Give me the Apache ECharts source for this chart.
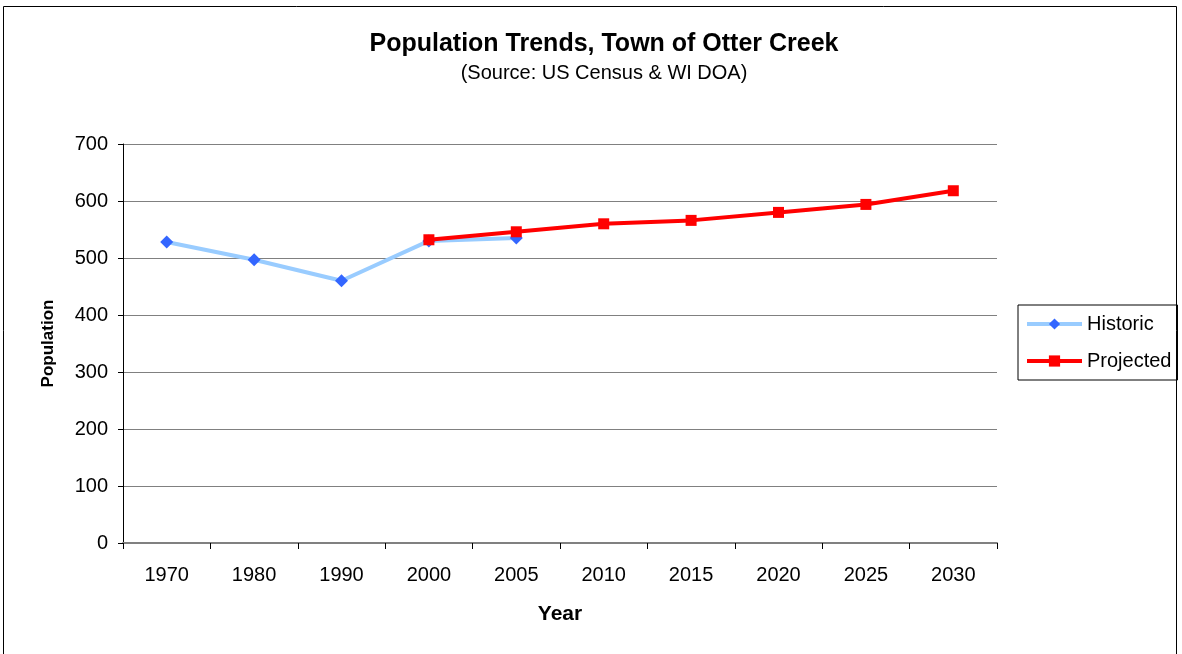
<!DOCTYPE html>
<html>
<head>
<meta charset="utf-8">
<script src="https://cdn.jsdelivr.net/npm/echarts@6/dist/echarts.min.js"></script>
<style>
html,body{margin:0;padding:0;background:#fff;}
#chart{width:1182px;height:654px;}
</style>
</head>
<body>
<div id="chart"></div>
<script>
// Census years and projection years on the category axis
const years = ['1970', '1980', '1990', '2000', '2005', '2010', '2015', '2020', '2025', '2030'];
// Historic counts (US Census); null beyond 2005
const historic = [528, 497, 460, 530, 535, null, null, null, null, null];
// Projected counts (WI DOA), starting in 2000
const projected = [null, null, null, 532, 546, 560, 566, 580, 594, 618];

const font = 'Liberation Sans, Arial, sans-serif';
const chart = echarts.init(document.getElementById('chart'));
chart.setOption({
  backgroundColor: '#fff',
  animation: false,
  graphic: [{
    type: 'rect',
    shape: { x: 3.5, y: 6.5, width: 1173, height: 660 },
    style: { fill: 'none', stroke: '#000', lineWidth: 1 },
    silent: true
  }],
  title: {
    text: 'Population Trends, Town of Otter Creek',
    subtext: '(Source: US Census & WI DOA)',
    left: 599, top: 27, textAlign: 'center',
    itemGap: 6,
    textStyle: { fontFamily: font, fontSize: 25, fontWeight: 'bold', color: '#000' },
    subtextStyle: { fontFamily: font, fontSize: 20, color: '#000' }
  },
  legend: {
    orient: 'vertical',
    left: 1018, top: 305,
    padding: [9, 6, 9, 7],
    itemGap: 17,
    itemWidth: 55, itemHeight: 14,
    borderColor: '#000', borderWidth: 1,
    lineStyle: { width: 4 },
    textStyle: { fontFamily: font, fontSize: 20, color: '#000' },
    data: ['Historic', 'Projected']
  },
  grid: { left: 123, right: 185, top: 144, bottom: 111, containLabel: false },
  xAxis: {
    type: 'category',
    data: years,
    boundaryGap: true,
    name: 'Year', nameLocation: 'middle', nameGap: 61,
    nameTextStyle: { fontFamily: font, fontSize: 21, fontWeight: 'bold', color: '#000' },
    axisLine: { lineStyle: { color: '#808080', width: 2 } },
    axisTick: { show: true, length: 6, lineStyle: { color: '#000' } },
    axisLabel: { fontFamily: font, fontSize: 20, color: '#000', margin: 22 }
  },
  yAxis: {
    type: 'value',
    min: 0, max: 700, interval: 100,
    name: 'Population', nameLocation: 'middle', nameGap: 66,
    nameTextStyle: { fontFamily: font, fontSize: 17, fontWeight: 'bold', color: '#000' },
    axisLine: { show: true, lineStyle: { color: '#000', width: 1 } },
    axisTick: { show: true, length: 5, inside: false, lineStyle: { color: '#000' } },
    axisLabel: { fontFamily: font, fontSize: 20, color: '#000', margin: 15 },
    splitLine: { lineStyle: { color: '#808080', width: 1 } }
  },
  series: [
    {
      name: 'Historic', type: 'line', data: historic,
      connectNulls: false,
      symbol: 'diamond', symbolSize: 13,
      lineStyle: { color: '#99CCFF', width: 4 },
      itemStyle: { color: '#3366FF' },
      z: 2
    },
    {
      name: 'Projected', type: 'line', data: projected,
      symbol: 'rect', symbolSize: 11,
      lineStyle: { color: '#FF0000', width: 4 },
      itemStyle: { color: '#FF0000' },
      z: 3
    }
  ]
});
</script>
</body>
</html>
